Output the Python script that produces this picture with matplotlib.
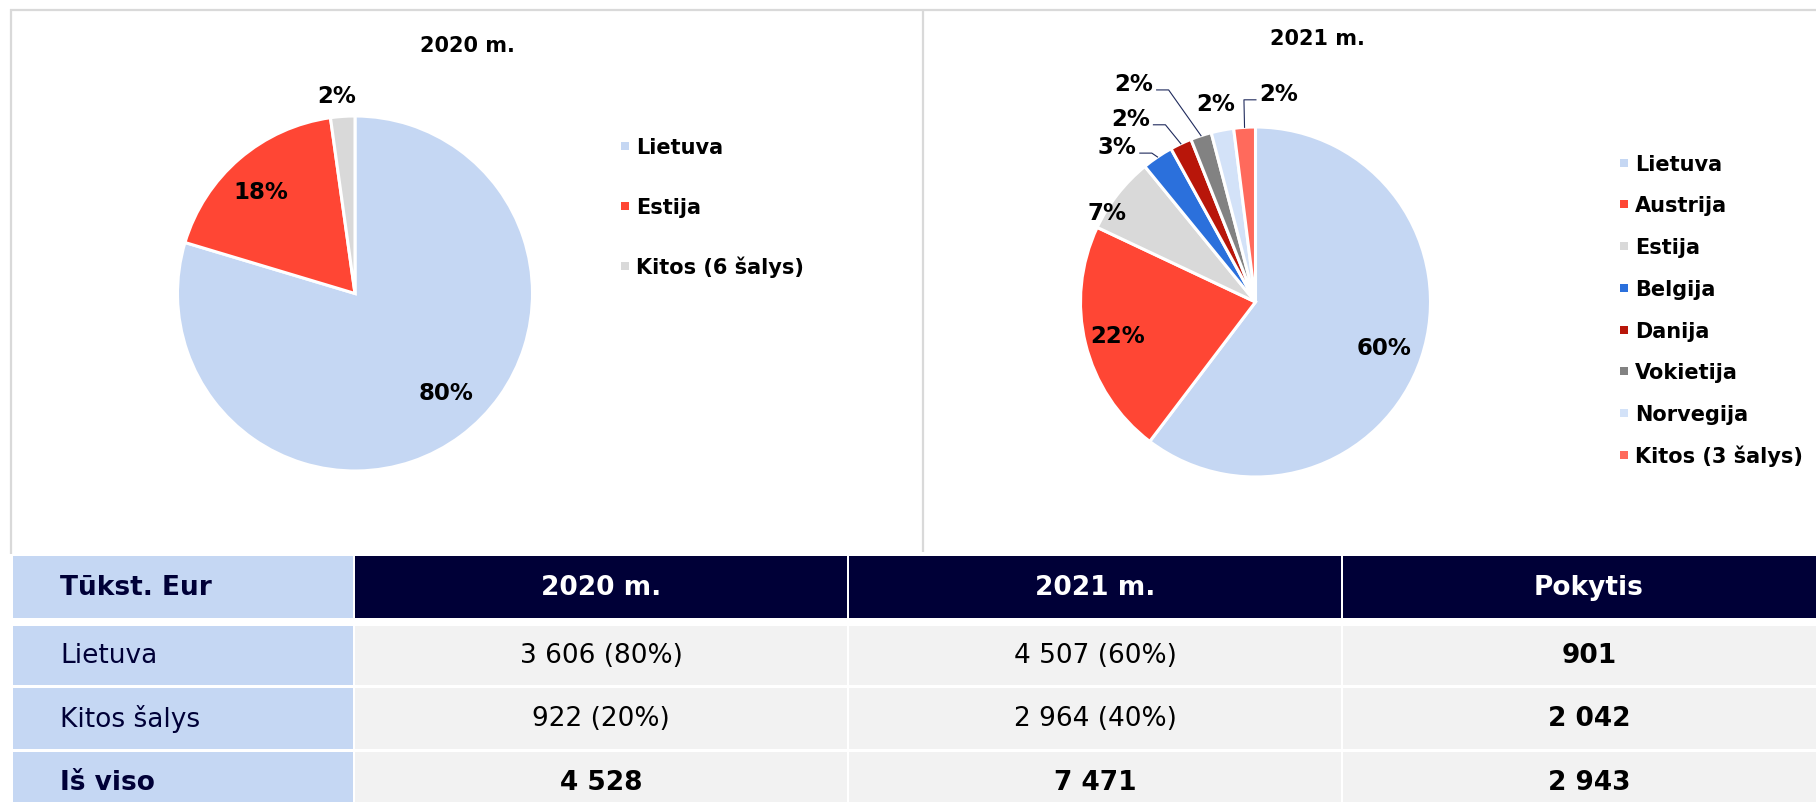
import matplotlib
matplotlib.use("Agg")
import matplotlib.pyplot as plt
from matplotlib.patches import Rectangle
import numpy as np

# ---------------- data ----------------
cats_2020 = ["Lietuva", "Estija", "Kitos (6 šalys)"]
vals_2020 = [3606, 822, 100]
cols_2020 = ["#C5D7F3", "#FF4634", "#D9D9D9"]

cats_2021 = ["Lietuva", "Austrija", "Estija", "Belgija", "Danija",
             "Vokietija", "Norvegija", "Kitos (3 šalys)"]
vals_2021 = [4507, 1620, 530, 215, 150, 145, 155, 149]
cols_2021 = ["#C5D7F3", "#FF4634", "#D9D9D9", "#2B70DC", "#B8160A",
             "#828282", "#D3E2F8", "#FF6A5C"]

tbl_header = ["Tūkst. Eur", "2020 m.", "2021 m.", "Pokytis"]
row_labels = ["Lietuva", "Kitos šalys", "Iš viso"]
lt_vals = [3606, 4507]      # 2020, 2021
other_vals = [922, 2964]    # 2020, 2021

# ---------------- layout / style ----------------
W, H = 1816, 803
NAVY = "#000037"
LBLUE = "#C5D7F3"
GRAYCELL = "#F2F2F2"
BORDER = "#D9D9D9"
FONT = "DejaVu Sans"


def Y(y):
    return H - y


fig = plt.figure(figsize=(W / 100, H / 100), dpi=100)
ax = fig.add_axes([0, 0, 1, 1])

# frame lines
ax.plot([10, W], [Y(10.5), Y(10.5)], color=BORDER, lw=1.6, solid_capstyle="butt")
ax.plot([11, 11], [Y(10), Y(555)], color=BORDER, lw=1.6, solid_capstyle="butt")
ax.plot([922.5, 922.5], [Y(10), Y(553)], color=BORDER, lw=1.6, solid_capstyle="butt")


def fmt(v):
    return f"{v:,}".replace(",", " ")


def draw_pie(vals, cols, center, radius, lbl_r, lbl_dang, leaders):
    wedges, _ = ax.pie(vals, colors=cols, startangle=90, counterclock=False,
                       center=center, radius=radius,
                       wedgeprops=dict(edgecolor="white", linewidth=2.2))
    total = sum(vals)
    cx, cy = center
    for i, w in enumerate(wedges):
        mid = np.deg2rad((w.theta1 + w.theta2) / 2)
        ang = mid + np.deg2rad(lbl_dang[i])
        lx = cx + lbl_r[i] * radius * np.cos(ang)
        ly = cy + lbl_r[i] * radius * np.sin(ang)
        pct = round(100 * vals[i] / total)
        ax.text(lx, ly, f"{pct}%", ha="center", va="center", fontsize=16.5,
                fontweight="bold", family=FONT, color="black")
        if leaders[i]:
            ex = cx + radius * np.cos(mid)
            ey = cy + radius * np.sin(mid)
            d = 1 if ex > lx else -1
            sx = lx + d * 23
            sy = ly - 6.5
            bx = sx + d * 12
            ax.plot([sx, bx, ex], [sy, sy, ey], color="#1F2A5C", lw=0.8)
    return wedges


def draw_legend(cats, cols, x_marker, x_text, y0, dy):
    for i, (c, col) in enumerate(zip(cats, cols)):
        yc = Y(y0 + i * dy)
        ax.add_patch(Rectangle((x_marker - 3.75, yc - 4.75), 8, 8,
                               facecolor=col, edgecolor="none"))
        ax.text(x_text, yc - 7.8, c, ha="left", va="baseline", fontsize=15,
                fontweight="bold", family=FONT, color="black")


# ---------------- 2020 pie ----------------
ax.text(467, Y(46), "2020 m.", ha="center", va="center", fontsize=15,
        fontweight="bold", family=FONT)
draw_pie(vals_2020, cols_2020, (355, Y(294.5)), 177.5,
         lbl_r=[0.76, 0.78, 1.12], lbl_dang=[6, 2, 1.4],
         leaders=[False, False, False])
draw_legend(cats_2020, cols_2020, 624.5, 636, 146, 60)

# ---------------- 2021 pie ----------------
ax.text(1317, Y(39), "2021 m.", ha="center", va="center", fontsize=15,
        fontweight="bold", family=FONT)
draw_pie(vals_2021, cols_2021, (1255.5, Y(303)), 175,
         lbl_r=[0.78, 0.81, 0.99, 1.19, 1.27, 1.43, 1.16, 1.20],
         lbl_dang=[-1, 0, 7, 7.7, 9, 11, 0.5, -10],
         leaders=[False, False, False, True, True, True, False, True])
draw_legend(cats_2021, cols_2021, 1623.5, 1635, 163, 41.7)

# ---------------- table ----------------
col_x = [(13, 353), (355, 847), (849, 1341), (1343, 1835)]
row_y = [(557, 619), (627, 686), (689, 750), (753, 813)]

tot = [lt_vals[0] + other_vals[0], lt_vals[1] + other_vals[1]]
body = [
    [row_labels[0], f"{fmt(lt_vals[0])} ({round(100 * lt_vals[0] / tot[0])}%)",
     f"{fmt(lt_vals[1])} ({round(100 * lt_vals[1] / tot[1])}%)",
     fmt(lt_vals[1] - lt_vals[0])],
    [row_labels[1], f"{fmt(other_vals[0])} ({round(100 * other_vals[0] / tot[0])}%)",
     f"{fmt(other_vals[1])} ({round(100 * other_vals[1] / tot[1])}%)",
     fmt(other_vals[1] - other_vals[0])],
    [row_labels[2], fmt(tot[0]), fmt(tot[1]), fmt(tot[1] - tot[0])],
]
rows = [tbl_header] + body

for r, (y1, y2) in enumerate(row_y):
    for c, (x1, x2) in enumerate(col_x):
        if c == 0:
            fc = LBLUE
        elif r == 0:
            fc = NAVY
        else:
            fc = GRAYCELL
        ax.add_patch(Rectangle((x1, Y(y2)), x2 - x1, y2 - y1,
                               facecolor=fc, edgecolor="none"))
        txt = rows[r][c]
        if c == 0:
            color = NAVY
            bold = (r == 0 or r == 3)
            ax.text(60, Y((y1 + y2) / 2), txt, ha="left",
                    va="center", fontsize=19,
                    fontweight="bold" if bold else "normal",
                    family=FONT, color=color)
        else:
            color = "white" if r == 0 else "black"
            bold = (r == 0 or r == 3 or c == 3)
            ax.text((x1 + x2) / 2, Y((y1 + y2) / 2), txt, ha="center",
                    va="center", fontsize=19,
                    fontweight="bold" if bold else "normal",
                    family=FONT, color=color)

ax.set_xlim(0, W)
ax.set_ylim(0, H)
ax.set_aspect("auto")
ax.axis("off")

fig.savefig("out.png", dpi=100, facecolor="white")
